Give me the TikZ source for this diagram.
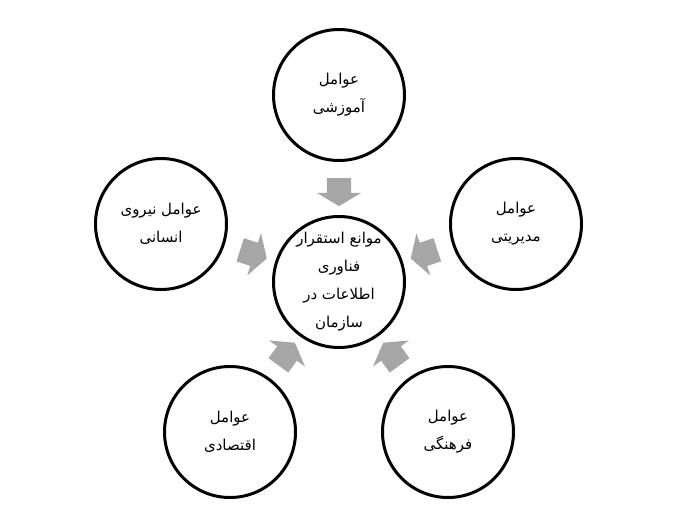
\documentclass[tikz,border=0pt]{standalone}
\usepackage{fontspec}
\usetikzlibrary{shapes.arrows}
\newfontfamily\farsifont[Script=Arabic]{DejaVu Sans}
\TeXXeTstate=1
\definecolor{arrowgray}{HTML}{A6A6A6}
\tikzset{
  factor/.style={draw,circle,line width=3pt,minimum size=131pt,inner sep=0pt,
    align=center,font=\farsifont\fontsize{15}{28}\selectfont},
  blockarrow/.style={single arrow,fill=arrowgray,draw=none,minimum height=28pt,
    inner xsep=0pt,inner ysep=12pt,single arrow head extend=10pt,
    single arrow tip angle=118,sloped,allow upside down}
}
\begin{document}
\begin{tikzpicture}[x=1pt,y=-1pt]
	\useasboundingbox (0,0) rectangle (683,507);
	\node[factor] (mid) at (339,282) {\beginR موانع استقرار\endR\\\beginR فناوری\endR\\\beginR اطلاعات در\endR\\\beginR سازمان\endR};
	\node[factor] (edu) at (339,95) {\beginR عوامل\endR\\\beginR آموزشی\endR};
	\node[factor] (hum) at (161,224) {\beginR عوامل نیروی\endR\\\beginR انسانی\endR};
	\node[factor] (man) at (516,224) {\beginR عوامل\endR\\\beginR مدیریتی\endR};
	\node[factor] (eco) at (230,432) {\beginR عوامل\endR\\\beginR اقتصادی\endR};
	\node[factor] (cul) at (448,432) {\beginR عوامل\endR\\\beginR فرهنگی\endR};
	% les flèches vers le centre
	\foreach \f in {edu,hum,man,eco,cul}
		\path (\f) -- node[blockarrow] {} (mid);
\end{tikzpicture}
\end{document}
